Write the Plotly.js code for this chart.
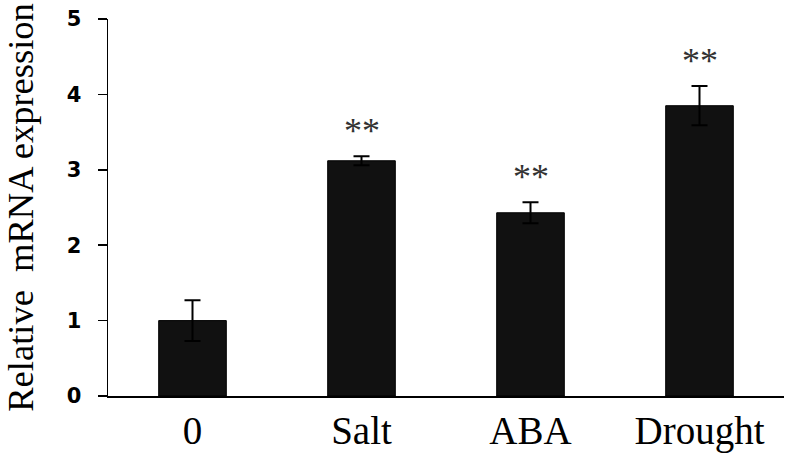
<!DOCTYPE html>
<html>
<head>
<meta charset="utf-8">
<script src="https://cdn.plot.ly/plotly-3.0.1.min.js"></script>
<style>
  html, body { margin: 0; padding: 0; background: #fff; }
  #plot { width: 793px; height: 454px; }
</style>
</head>
<body>
<div id="plot"></div>
<script>
var treatments = ['0', 'Salt', 'ABA', 'Drought'];
var expression = [1.0, 3.12, 2.43, 3.85];
var errors = [0.27, 0.06, 0.14, 0.26];
var significance = ['', '**', '**', '**'];

var serif = 'Times New Roman, Liberation Serif, serif';

var trace = {
    x: treatments,
    y: expression,
    type: 'bar',
    marker: { color: '#111111', line: { color: '#000000', width: 1 } },
    error_y: { type: 'data', array: errors, visible: true, color: '#000000', thickness: 2, width: 8 },
    hoverinfo: 'skip'
};

var notes = [];
treatments.forEach(function (t, i) {
    if (!significance[i]) return;
    notes.push({
        x: t,
        y: expression[i] + errors[i],
        text: significance[i],
        showarrow: false,
        yanchor: 'middle',
        yshift: 25,
        font: { family: serif, size: 36, color: '#333333' }
    });
});

var layout = {
    width: 793,
    height: 454,
    margin: { l: 108, r: 9, t: 19, b: 58 },
    paper_bgcolor: '#ffffff',
    plot_bgcolor: '#ffffff',
    showlegend: false,
    bargap: 0.6,
    xaxis: {
        showline: true,
        linecolor: '#000000',
        linewidth: 1.5,
        ticks: '',
        showgrid: false,
        zeroline: false,
        tickfont: { family: serif, size: 39, color: '#000000' },
        ticklabelstandoff: 0
    },
    yaxis: {
        range: [0, 5],
        tickvals: [0, 1, 2, 3, 4, 5],
        showline: true,
        linecolor: '#000000',
        linewidth: 1.5,
        ticks: 'outside',
        ticklen: 9,
        tickwidth: 1.5,
        tickcolor: '#000000',
        showgrid: false,
        zeroline: false,
        tickfont: { family: 'DejaVu Sans, sans-serif', size: 21, color: '#000000', weight: 'bold' },
        ticklabelstandoff: 12,
        title: {
            text: 'Relative  mRNA expression',
            font: { family: serif, size: 36.5, color: '#000000' },
            standoff: 22
        }
    },
    annotations: notes
};

Plotly.newPlot('plot', [trace], layout, { displayModeBar: false, staticPlot: true });
</script>
</body>
</html>
